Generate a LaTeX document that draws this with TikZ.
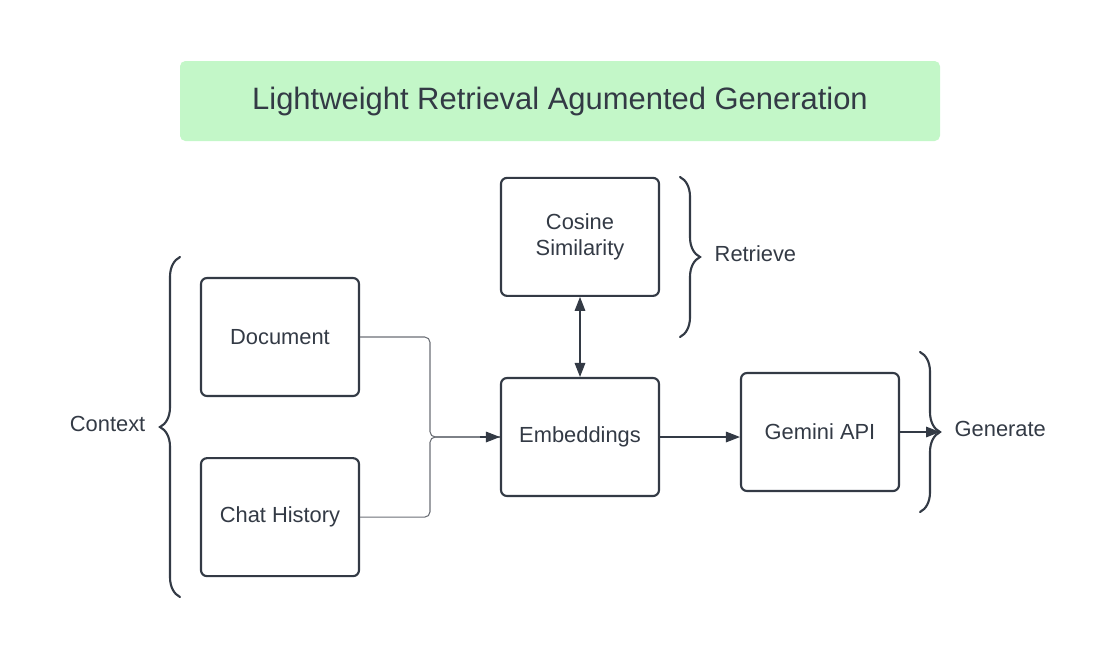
\documentclass[tikz,border=0pt]{standalone}
\usepackage{fontspec}
\setmainfont{Liberation Sans}
\usepackage{xcolor}
\usepackage{tikz}
\usetikzlibrary{positioning,calc,decorations.pathreplacing,arrows.meta}

\definecolor{inkgray}{HTML}{333A45}
\definecolor{feedgray}{HTML}{6B6F76}
\definecolor{titlegreen}{HTML}{C3F7C8}

\begin{document}
\begin{tikzpicture}[
	x=0.75pt, y=-0.75pt,
	font=\fontsize{16.4}{19.5}\selectfont,
	text=inkgray,
	% box of one stage
	stagebox/.style={draw=inkgray, line width=1.6pt, rounded corners=4.5pt,
		minimum width=118.5pt, minimum height=88.5pt, align=center, inner sep=0pt},
	titlebox/.style={fill=titlegreen, rounded corners=4pt, minimum width=570pt,
		minimum height=60pt, font=\fontsize{23.2}{28}\selectfont},
	bracestyle/.style={decorate, decoration={brace, amplitude=15pt},
		draw=inkgray, line width=1.6pt, line cap=round},
	flowarrow/.style={-{Triangle[length=10.5pt,width=8pt]}, draw=inkgray, line width=0.8pt},
	feedline/.style={draw=feedgray, line width=0.8pt, rounded corners=4pt}
	]
	\useasboundingbox (0,0) rectangle (1109,658);
	
	% --- TITLE ---
	\node[titlebox] (title) at (560,101) {Lightweight Retrieval Agumented Generation};
	
	% --- STAGES ---
	\node[stagebox] (doc) at (280,337) {Document};
	\node[stagebox, below=45pt of doc] (chat) {Chat History};
	\node[stagebox] (emb) at (580,437) {Embeddings};
	\node[stagebox, above=60pt of emb] (cos) {Cosine\\Similarity};
	\node[stagebox] (gem) at (820,432) {Gemini API};
	
	% --- BRACES ---
	\draw[bracestyle] (180,597) -- (180,257);
	\draw[bracestyle] (680,177) -- (680,337);
	\draw[bracestyle] (920,352) -- (920,512);
	\coordinate (gentip) at (940,432);
	
	\node[anchor=east] (ctxlabel) at (150,424) {Context};
	\node[anchor=west] (retlabel) at (710,254) {Retrieve};
	\node[anchor=west] (genlabel) at (950,429) {Generate};
	
	% --- CONNECTORS ---
	\coordinate (merge) at ($(doc.east |- emb.west)!0.5!(emb.west)$);
	\draw[feedline] (chat.east) -| (merge) -- (emb.west);
	\draw[feedline] (doc.east) -| (merge) -- (emb.west);
	\draw[flowarrow] ($(emb.west)+(-20,0)$) -- (emb.west);
	\draw[flowarrow, {Triangle[length=10.5pt,width=8pt]}-{Triangle[length=10.5pt,width=8pt]}] (cos.south) -- (emb.north);
	\draw[flowarrow] (emb.east) -- (emb.east -| gem.west);
	\draw[flowarrow] (gem.east) -- (gentip);
	
\end{tikzpicture}
\end{document}
